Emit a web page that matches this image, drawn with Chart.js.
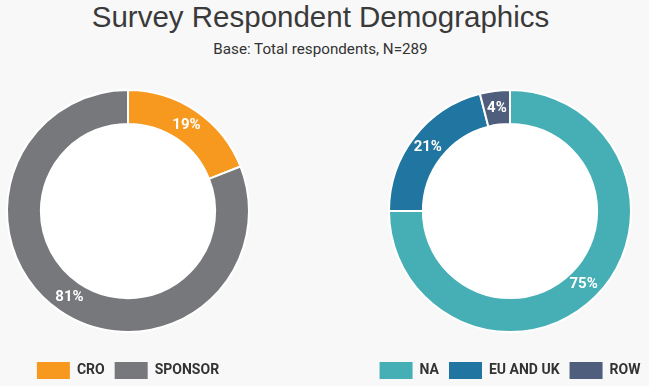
<!DOCTYPE html>
<html>
<head>
<meta charset="utf-8">
<script src="https://cdn.jsdelivr.net/npm/chart.js@4.4.1/dist/chart.umd.min.js"></script>
<style>
  html, body { margin: 0; padding: 0; background: #f8f8f8; }
  body { width: 649px; height: 386px; position: relative; overflow: hidden; }
  .title {
    position: absolute; left: 0; top: 1px; width: 641px;
    text-align: center; font: 29.5px/32px "Liberation Sans", Arial, sans-serif; color: #3a3a3a;
  }
  .subtitle {
    position: absolute; left: 0; top: 40px; width: 641px;
    text-align: center; font: 15.2px/18px Roboto, sans-serif; color: #333;
  }
  #wrapLeft { position: absolute; left: 0; top: 70px; width: 256px; height: 319px; }
  #wrapRight { position: absolute; left: 360px; top: 70px; width: 300px; height: 319px; }
</style>
</head>
<body>
<div class="title">Survey Respondent Demographics</div>
<div class="subtitle">Base: Total respondents, N=289</div>
<div id="wrapLeft"><canvas id="chartLeft"></canvas></div>
<div id="wrapRight"><canvas id="chartRight"></canvas></div>

<script>
// Left: respondent type
const typeLabels = ['CRO', 'SPONSOR'];
const typeValues = [19, 81];
const typeColors = ['#f7991f', '#77787b'];

// Right: region
const regionLabels = ['NA', 'EU AND UK', 'ROW'];
const regionValues = [75, 21, 4];
const regionColors = ['#45afb5', '#2175a1', '#4f5e7c'];

// white hole behind the ring + percentage labels on each slice
const ringPlugin = {
    id: 'ring',
    beforeDatasetsDraw(chart) {
        const arc = chart.getDatasetMeta(0).data[0];
        if (!arc) return;
        const ctx = chart.ctx;
        ctx.save();
        ctx.fillStyle = '#ffffff';
        ctx.beginPath();
        ctx.arc(arc.x, arc.y, arc.innerRadius, 0, Math.PI * 2);
        ctx.fill();
        ctx.restore();
    },
    afterDatasetsDraw(chart) {
        const ctx = chart.ctx;
        const values = chart.data.datasets[0].data;
        ctx.save();
        ctx.fillStyle = '#ffffff';
        ctx.font = 'bold 15px Roboto, sans-serif';
        ctx.textAlign = 'center';
        ctx.textBaseline = 'middle';
        chart.getDatasetMeta(0).data.forEach((arc, i) => {
            const p = arc.tooltipPosition();
            ctx.fillText(values[i] + '%', p.x, p.y);
        });
        ctx.restore();
    }
};

function makeDonut(id, labels, values, colors) {
    return new Chart(document.getElementById(id), {
        type: 'doughnut',
        data: {
            labels: labels,
            datasets: [{
                data: values,
                backgroundColor: colors,
                borderColor: '#ffffff',
                borderWidth: 2,
                radius: 121,
                cutout: '72%'
            }]
        },
        options: {
            responsive: true,
            maintainAspectRatio: false,
            animation: false,
            layout: { padding: 0 },
            plugins: {
                tooltip: { enabled: false },
                legend: {
                    position: 'bottom',
                    labels: {
                        boxWidth: 33,
                        boxHeight: 17,
                        padding: 10,
                        color: '#333',
                        font: { family: 'Roboto', size: 14, weight: 'bold' },
                        generateLabels(chart) {
                            const items = Chart.overrides.doughnut.plugins.legend.labels.generateLabels(chart);
                            items.forEach(it => { it.lineWidth = 0; it.strokeStyle = 'rgba(0,0,0,0)'; });
                            return items;
                        }
                    }
                }
            }
        },
        plugins: [ringPlugin]
    });
}

makeDonut('chartLeft', typeLabels, typeValues, typeColors);
makeDonut('chartRight', regionLabels, regionValues, regionColors);
</script>
</body>
</html>
